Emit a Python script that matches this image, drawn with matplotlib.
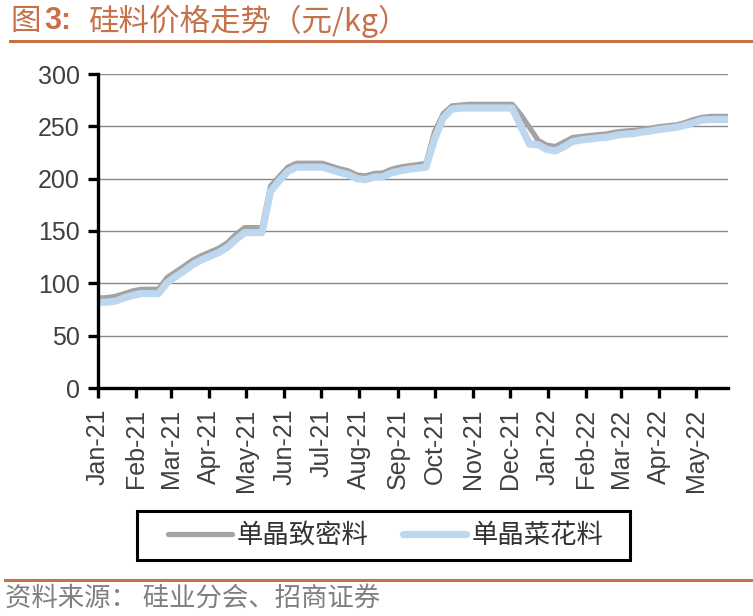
"""
Silicon material price trend (yuan/kg), weekly, Jan-21 to May-22.
Dense mono vs cauliflower mono.
"""

import matplotlib
matplotlib.use('Agg')
import matplotlib.pyplot as plt
import matplotlib.dates as mdates
import pandas as pd

plt.rcParams['font.family'] = ['Liberation Sans', 'Noto Sans CJK SC', 'DejaVu Sans']

# weekly prices
START = '2021-01-01'
DENSE = [86, 86.3, 87.5, 90, 92.7, 94.3, 94.3, 94.3, 105.5, 111,
         116.5, 122.3, 126.5, 130, 133.5, 138.8, 147, 153.2, 153.2, 153.2,
         193, 202, 211, 214.7, 214.7, 214.7, 214.7, 212, 209.5, 207.5,
         203.5, 202.6, 205, 205.3, 209, 211, 212.3, 213.4, 214.5, 245,
         262, 269.5, 270.3, 271, 271, 271, 271, 271, 271, 261,
         249, 236.5, 232, 230.7, 235, 239.3, 240.3, 241.2, 242, 242.8,
         244.5, 245.4, 246, 247, 248.2, 249.6, 250.5, 251.3, 253.5, 256.5,
         258.5, 259.5, 259.5, 259.5]
FLOWER = [82, 82, 83, 86, 88.5, 90.3, 90.3, 90.3, 100.5, 106.5,
          112, 118, 122.5, 126, 129.5, 134.5, 142, 148.5, 148.5, 148.5,
          188, 198, 207, 211, 211, 211, 211, 208.5, 206, 204,
          200, 199, 201.5, 202, 205.5, 207.5, 209, 210, 211, 238,
          258, 266.5, 267.5, 267.5, 267.5, 267.5, 267.5, 267.5, 267.5, 250,
          233, 232.5, 228, 226.5, 230.5, 235.5, 237, 238, 239, 239.5,
          241.5, 242.5, 243, 244.5, 245.5, 247, 248, 249, 251, 253.5,
          256, 256.5, 256.5, 256.5]
LABELS = ['单晶致密料', '单晶菜花料']
COLORS = ['#A3A3A3', '#BDD7EE']
ACCENT = '#C6714A'
CJK = ['Noto Sans CJK SC', 'DejaVu Sans']

dates = pd.date_range(START, periods=len(DENSE), freq='7D')

fig = plt.figure(figsize=(7.53, 6.16), dpi=100)
ax = fig.add_axes([98 / 753, 1 - 388 / 616, 630 / 753, 314 / 616])

ax.plot(dates, DENSE, color=COLORS[0], lw=3.8, label=LABELS[0], solid_capstyle='round')
ax.plot(dates, FLOWER, color=COLORS[1], lw=5.2, label=LABELS[1], solid_capstyle='round')

ax.set_ylim(0, 300)
ax.set_yticks(range(0, 301, 50))
ax.set_xlim(dates[0], dates[-1])
ax.xaxis.set_major_locator(mdates.MonthLocator())
ax.xaxis.set_major_formatter(mdates.DateFormatter('%b-%y'))
ax.yaxis.grid(True, color='#8A8A8A', lw=1.0)
ax.set_axisbelow(True)

for s in ('top', 'right'):
    ax.spines[s].set_visible(False)
for s in ('left', 'bottom'):
    ax.spines[s].set_linewidth(2.4)
    ax.spines[s].set_color('black')
ax.tick_params(axis='both', direction='out', length=7, width=2.4, colors='black',
               labelsize=18, labelcolor='#404040', pad=6)
ax.tick_params(axis='x', rotation=90, pad=8)

# legend: entries without frame, box drawn separately (wide side padding)
leg = fig.legend(loc='center', bbox_to_anchor=(386 / 753, 1 - 535.5 / 616), ncol=2,
                 prop={'family': CJK, 'size': 19}, frameon=False,
                 handlelength=2.4, columnspacing=1.3, handletextpad=0.2,
                 borderpad=0, borderaxespad=0, labelcolor='#333333')
for ln in leg.get_lines():
    ln.set_solid_capstyle('round')
fig.add_artist(plt.Rectangle((137 / 753, 1 - 560 / 616), 493 / 753, 49 / 616,
                             transform=fig.transFigure, fill=False,
                             edgecolor='black', lw=2.2))

# title, rules, source
fig.text(10 / 753, 1 - 21 / 616, '图', color=ACCENT, fontsize=22, va='center', ha='left',
         family=CJK)
fig.text(44 / 753, 1 - 21 / 616, '3:', color=ACCENT, fontsize=22, fontweight='bold',
         va='center', ha='left', family=['Liberation Sans'])
fig.text(88 / 753, 1 - 21 / 616, '硅料价格走势（元/kg）', color=ACCENT, fontsize=22,
         fontweight='medium', va='center', ha='left', family=CJK)
fig.add_artist(plt.Line2D([10 / 753, 1], [1 - 41 / 616] * 2, color=ACCENT, lw=2.2))
fig.add_artist(plt.Line2D([5 / 753, 1], [1 - 580 / 616] * 2, color=ACCENT, lw=2.2))
fig.text(5 / 753, 1 - 598 / 616, '资料来源： 硅业分会、招商证券', color='#7F7F7F', fontsize=19,
         va='center', ha='left', family=CJK)

fig.savefig('out.png', dpi=100)
